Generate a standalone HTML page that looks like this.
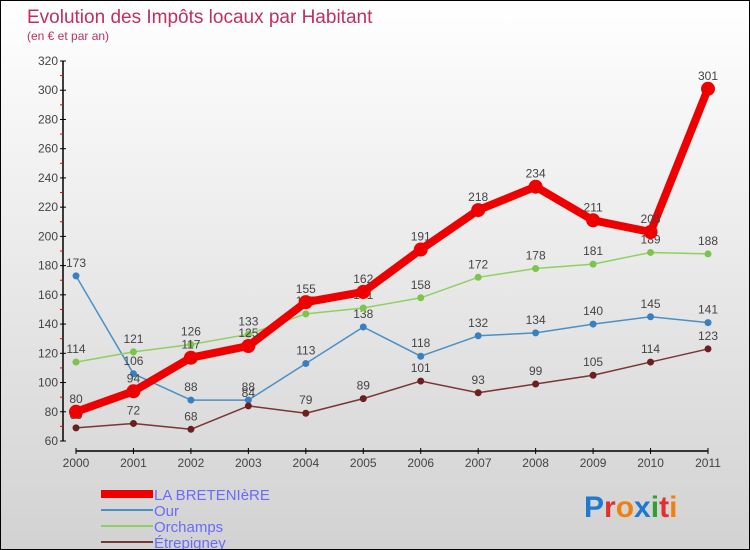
<!DOCTYPE html>
<html><head><meta charset="utf-8"><style>
body{margin:0;}
#c{width:750px;height:550px;position:relative;box-sizing:border-box;border:1px solid #000;background:linear-gradient(#fff,#d2d2d2);font-family:"Liberation Sans",sans-serif;overflow:hidden}
</style></head><body>
<div id="c">
<svg id="s" width="750" height="550" style="position:absolute;left:0;top:0">
<text x="26" y="22" font-size="19" fill="#c0305e">Evolution des Impôts locaux par Habitant</text>
<text x="26" y="39" font-size="12" fill="#c0305e">(en € et par an)</text>
<g id="g"></g>
<g id="legend"></g>
<text x="583" y="516" font-size="30" font-weight="bold"><tspan fill="#1e7ad0">P</tspan><tspan fill="#e03030">r</tspan><tspan fill="#f08010">o</tspan><tspan fill="#1e7ad0">x</tspan><tspan fill="#30a030">i</tspan><tspan fill="#e03030">t</tspan><tspan fill="#f08010">i</tspan></text>
</svg>
</div>
<script>
const years=[2000,2001,2002,2003,2004,2005,2006,2007,2008,2009,2010,2011];
const laBreteniere=[80,94,117,125,155,162,191,218,234,211,203,301];
const our=[173,106,88,88,113,138,118,132,134,140,145,141];
const orchamps=[114,121,126,133,147,151,158,172,178,181,189,188];
const etrepigney=[69,72,68,84,79,89,101,93,99,105,114,123];
const yTicks=[60,80,100,120,140,160,180,200,220,240,260,280,300,320];
const names=["LA BRETENIèRE","Our","Orchamps","Étrepigney"];
const NS="http://www.w3.org/2000/svg";
const g=document.getElementById('g');
const X=i=>75+i*(707-75)/(years.length-1);
const Y=v=>440-(v-60)*(380/260);
function el(t,a,p){const e=document.createElementNS(NS,t);for(const k in a)e.setAttribute(k,a[k]);(p||g).appendChild(e);return e;}
let ax=el('line',{x1:62,y1:60,x2:62,y2:440,stroke:'#000','stroke-width':1.5});


yTicks.forEach(v=>{el('line',{x1:59,x2:65,y1:Y(v),y2:Y(v),stroke:'#000'});
el('line',{x1:59,x2:62,y1:Y(v+10),y2:Y(v+10),stroke:v<320?'#e00':'none'});
const t=el('text',{x:57,y:Y(v)+4,'font-size':12,'text-anchor':'end',fill:'#444'});t.textContent=v;

});
let xa=el('line',{x1:75,y1:450,x2:707,y2:450,stroke:'#000','stroke-width':1.5});


years.forEach((y,i)=>{el('line',{x1:X(i),x2:X(i),y1:447,y2:453,stroke:'#000'});
const t=el('text',{x:X(i),y:466,'font-size':12,'text-anchor':'middle',fill:'#444'});t.textContent=y;

});
const series=[[our,'#4a90c8','#3a80c0',1.5,3.5,'our'],[orchamps,'#8fd160','#7cc44c',1.5,3.5,'orchamps'],[etrepigney,'#7a3535','#6b1f1f',1.5,3.5,'etrepigney'],[laBreteniere,'#ee0000','#ee0000',8,7,'la-breteniere']];
series.forEach(([d,c,cc,w,r,n])=>{
const p=el('polyline',{points:d.map((v,i)=>X(i)+','+Y(v)).join(' '),fill:'none',stroke:c,'stroke-width':w,'stroke-linejoin':'round'});


d.forEach((v,i)=>{const m=el('circle',{cx:X(i),cy:Y(v),r:r,fill:cc});


const t=el('text',{x:X(i),y:Y(v)-9,'font-size':12,'text-anchor':'middle',fill:'#444'});t.textContent=v;

});
});
const lg=document.getElementById('legend');
const lc=['#ee0000','#4a90c8','#8fd160','#7a3535'],lw=[8,2,2,2];
names.forEach((n,i)=>{const y=493+i*16;
el('line',{x1:100,x2:152,y1:y,y2:y,stroke:lc[i],'stroke-width':lw[i]},lg);
const t=el('text',{x:153,y:y+6,'font-size':15,fill:'#6a6aff'},lg);t.textContent=n;

});
</script>
</body></html>
